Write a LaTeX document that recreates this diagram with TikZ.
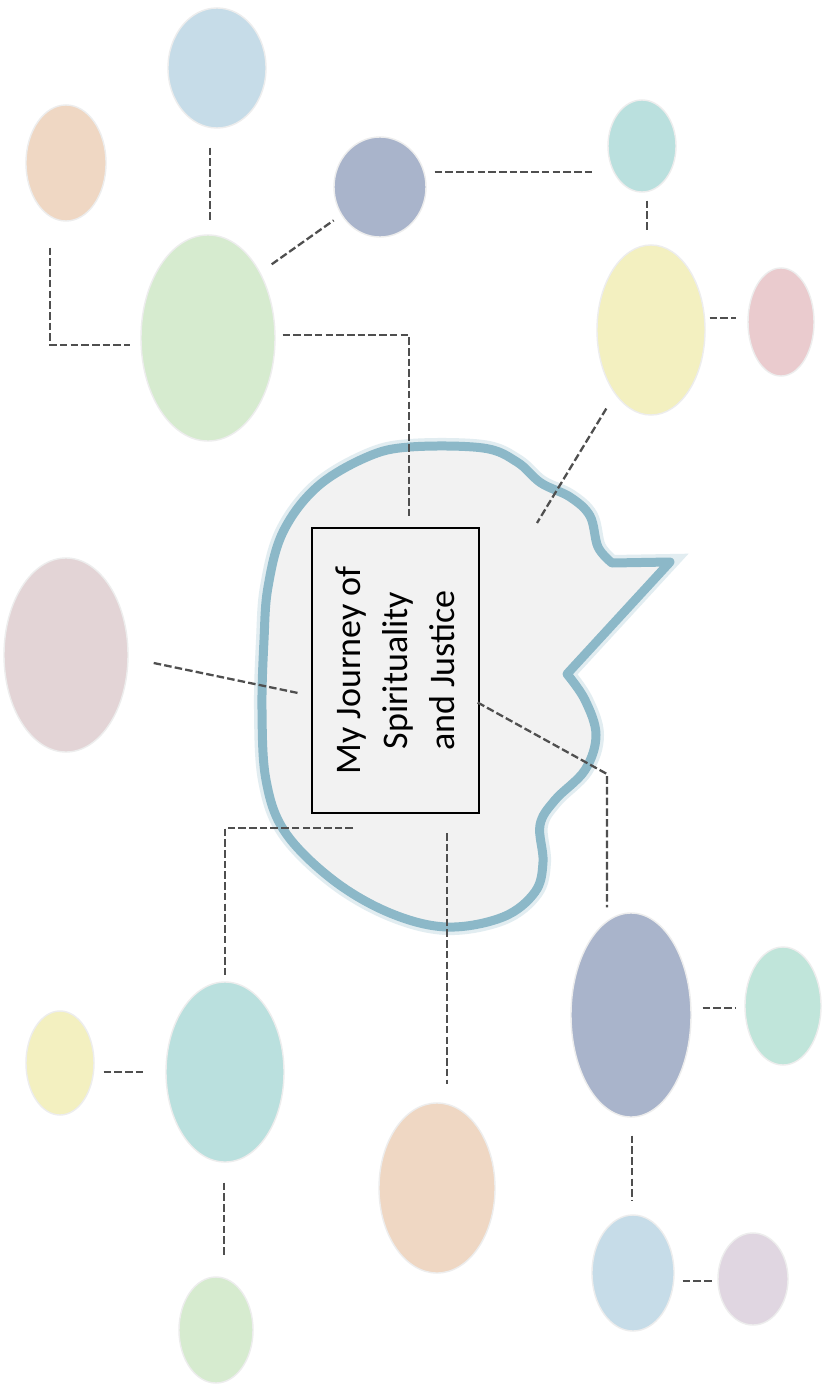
\documentclass[tikz,border=0pt]{standalone}
\usepackage{fontspec}
\setmainfont{Carlito}
\usepackage{graphicx}
\usetikzlibrary{shapes.geometric}
\definecolor{cloudline}{HTML}{8CB8C8}
\definecolor{cloudfill}{HTML}{F2F2F2}
\definecolor{linkgray}{HTML}{4F4F4F}
\definecolor{paleblue}{HTML}{C6DCE8}
\definecolor{palepeach}{HTML}{EFD7C3}
\definecolor{slateblue}{HTML}{A9B4CB}
\definecolor{paleteal}{HTML}{BAE0DE}
\definecolor{palegreen}{HTML}{D6EBCF}
\definecolor{paleyellow}{HTML}{F3F0C0}
\definecolor{palepink}{HTML}{EACBCE}
\definecolor{palemauve}{HTML}{E3D4D6}
\definecolor{palemint}{HTML}{C0E5DA}
\definecolor{palelilac}{HTML}{E0D6E1}
\begin{document}
\begin{tikzpicture}[x=0.02cm,y=-0.02cm,
        bsize/.style 2 args={minimum width=#1*0.02cm,minimum height=#2*0.02cm}]
        % Styles
        \tikzstyle{blob}=[ellipse,inner sep=0pt,draw=black!7,line width=0.8pt]
        \tikzstyle{link}=[draw=linkgray,line width=1.3pt,dash pattern=on 4.3pt off 1.8pt]
        \tikzstyle{title box}=[draw=black,line width=0.75pt,inner sep=0pt,minimum width=3.34cm,minimum height=5.7cm]
        %canvas
        \path[fill=white,use as bounding box] (0,0) rectangle (825,1385);
        %cloud
        \draw[cloudline,fill=cloudfill,line width=0.18cm,line join=round,
              preaction={draw=cloudline!25,line width=0.32cm}]
            plot[smooth,tension=0.6] coordinates {(567,674) (585,700) (596,735) (585,770) (555,800)
                (540,825) (543,862) (535,892) (503,917) (447,927) (390,913) (333,880) (285,832)
                (266,780) (262,710) (264,640) (268,587) (283,532) (317,487) (367,457) (410,447)
                (483,448) (517,462) (541,483) (570,497) (590,516) (598,547) (612,563)}
            -- (670,562) -- cycle;
        \node[title box] (jbox) at (395.5,670.5)
            {\rotatebox{90}{\parbox{5.5cm}{\centering\fontsize{20.5}{26.7}\selectfont
              My Journey of\\ Spirituality\\ and Justice}}};
        %blobs
        \node[blob,fill=paleblue,bsize={98}{120}] (ltblueT) at (217,68) {};
        \node[blob,fill=palepeach,bsize={80}{116}] (peachT) at (66,163) {};
        \node[blob,fill=slateblue,bsize={92}{100}] (dkblueS) at (380,187) {};
        \node[blob,fill=paleteal,bsize={68}{92}] (tealS) at (642,146) {};
        \node[blob,fill=palegreen,bsize={134}{206}] (greenL) at (208,338) {};
        \node[blob,fill=paleyellow,bsize={108}{170}] (yellowR) at (651,330) {};
        \node[blob,fill=palepink,bsize={66}{108}] (pinkR) at (781,322) {};
        \node[blob,fill=palemauve,bsize={124}{194}] (mauveL) at (66,655) {};
        \node[blob,fill=paleteal,bsize={118}{180}] (tealL) at (225,1072) {};
        \node[blob,fill=paleyellow,bsize={68}{104}] (yellowS) at (60,1063) {};
        \node[blob,fill=palegreen,bsize={74}{106}] (greenS) at (216,1330) {};
        \node[blob,fill=palepeach,bsize={116}{170}] (peachB) at (437,1188) {};
        \node[blob,fill=slateblue,bsize={120}{204}] (dkblueB) at (631,1015) {};
        \node[blob,fill=palemint,bsize={76}{118}] (mintR) at (783,1006) {};
        \node[blob,fill=paleblue,bsize={82}{116}] (ltblueB) at (633,1273) {};
        \node[blob,fill=palelilac,bsize={70}{92}] (lilacR) at (753,1279) {};
        %cloud ends
        \coordinate (cN) at (409,518);
        \coordinate (cNE) at (537,523);
        \coordinate (cW) at (298,693);
        \coordinate (cSW) at (353,828);
        \coordinate (cS) at (447,833);
        \coordinate (bendSE) at (607,774);
        %links
        \draw[link] ([shift={(-7,19)}]ltblueT.south) -- ([shift={(2,-12)}]greenL.north);
        \draw[link] ([shift={(-16,26)}]peachT.south) |- ([shift={(-10,7)}]greenL.west);
        \draw[link] ([shift={(7,-17)}]greenL.45) -- ([shift={(-12,-1)}]dkblueS.225);
        \draw[link] ([shift={(8,-15)}]dkblueS.east) -- ([shift={(-13,26)}]tealS.west);
        \draw[link] ([shift={(5,8)}]tealS.south) -- ([shift={(-4,-12)}]yellowR.north);
        \draw[link] ([shift={(4,-12)}]yellowR.east) -- ([shift={(-11,-4)}]pinkR.west);
        \draw[link] ([shift={(7,-3)}]greenL.east) -| (cN);
        \draw[link] ([shift={(-8,15)}]yellowR.240) -- (cNE);
        \draw[link] ([shift={(25,8)}]mauveL.east) -- (cW);
        \draw[link] (cSW) -| ([shift={(0,-4)}]tealL.north);
        \draw[link] (cS) -- ([shift={(10,-18)}]peachB.north);
        \draw[link] ([shift={(-2,32)}]jbox.east) -- (bendSE) -- ([shift={(-24,-5)}]dkblueB.north);
        \draw[link] ([shift={(9,9)}]yellowS.east) -- ([shift={(-19,0)}]tealL.west);
        \draw[link] ([shift={(-1,20)}]tealL.south) -- ([shift={(8,-19)}]greenS.north);
        \draw[link] ([shift={(11,-7)}]dkblueB.east) -- ([shift={(-8,2)}]mintR.west);
        \draw[link] ([shift={(1,18)}]dkblueB.south) -- ([shift={(-1,-13)}]ltblueB.north);
        \draw[link] ([shift={(8,8)}]ltblueB.east) -- ([shift={(-5,2)}]lilacR.west);
\end{tikzpicture}
\end{document}
